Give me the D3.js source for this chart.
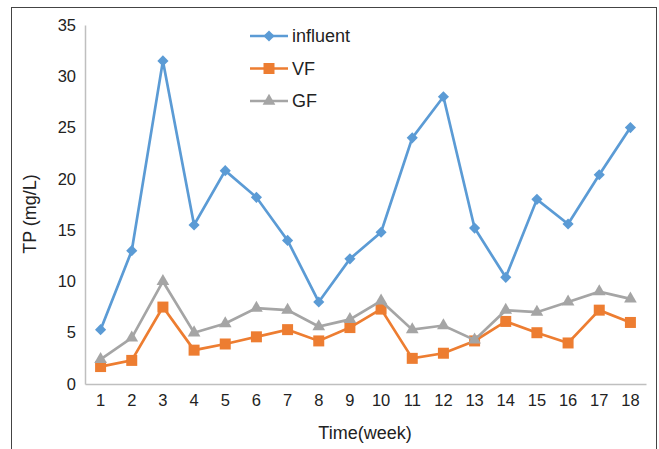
<!DOCTYPE html>
<html>
<head>
<meta charset="utf-8">
<script src="https://cdn.jsdelivr.net/npm/d3@7"></script>
<style>
  body { margin: 0; background: #fff; }
  text { font-family: "Liberation Sans", Arial, sans-serif; fill: #222; }
</style>
</head>
<body>
<script>
var weeks = [1, 2, 3, 4, 5, 6, 7, 8, 9, 10, 11, 12, 13, 14, 15, 16, 17, 18]
var influent = [5.3, 13, 31.5, 15.5, 20.8, 18.2, 14, 8, 12.2, 14.8, 24, 28, 15.2, 10.4, 18, 15.6, 20.4, 25]
var vf = [1.7, 2.3, 7.5, 3.3, 3.9, 4.6, 5.3, 4.2, 5.5, 7.3, 2.5, 3.0, 4.2, 6.1, 5.0, 4.0, 7.2, 6.0]
var gf = [2.4, 4.5, 10, 5.0, 5.9, 7.4, 7.2, 5.6, 6.3, 8.1, 5.3, 5.7, 4.3, 7.2, 7.0, 8.0, 9.0, 8.3]
var yTicks = [0, 5, 10, 15, 20, 25, 30, 35]

var series = [
    { name: 'influent', values: influent, color: '#5b9bd5', symbol: d3.symbolSquare, size: 62, rot: 45 },
    { name: 'VF', values: vf, color: '#ed7d31', symbol: d3.symbolSquare, size: 121, rot: 0 },
    { name: 'GF', values: gf, color: '#a5a5a5', symbol: d3.symbolTriangle, size: 70, rot: 0 }
]

var width = 659, height = 449
var svg = d3.select('body').append('svg')
    .attr('width', width)
    .attr('height', height)

// outer frame
svg.append('rect')
    .attr('x', 11.5).attr('y', 7.5)
    .attr('width', 645).attr('height', 470)
    .attr('fill', 'none').attr('stroke', '#444').attr('stroke-width', 1)

var x = d3.scaleBand().domain(weeks).range([85, 646])
var y = d3.scaleLinear().domain([0, 35]).range([384, 25])

// axes
var yAxis = svg.append('g')
    .attr('transform', 'translate(85,0)')
    .call(d3.axisLeft(y).tickValues(yTicks).tickSize(0).tickPadding(9))
yAxis.select('.domain').attr('stroke', '#bfbfbf').attr('stroke-width', 1.5)
yAxis.selectAll('text').attr('font-size', 16.5).style('font-family', '"Liberation Sans", Arial, sans-serif').attr('fill', '#222')

var xAxis = svg.append('g')
    .attr('transform', 'translate(0,384)')
    .call(d3.axisBottom(x).tickSize(0).tickPadding(10))
xAxis.select('.domain').attr('stroke', '#bfbfbf').attr('stroke-width', 1.5)
xAxis.selectAll('text').attr('font-size', 16.5).style('font-family', '"Liberation Sans", Arial, sans-serif').attr('fill', '#222')

// axis titles
svg.append('text')
    .attr('x', 365).attr('y', 439)
    .attr('text-anchor', 'middle')
    .attr('font-size', 18)
    .text('Time(week)')

svg.append('text')
    .attr('transform', 'translate(36,214) rotate(-90)')
    .attr('text-anchor', 'middle')
    .attr('font-size', 18)
    .text('TP (mg/L)')

var line = d3.line()
    .x(function (d, i) { return x(weeks[i]) + x.bandwidth() / 2 })
    .y(function (d) { return y(d) })

series.forEach(function (s) {
    var g = svg.append('g')
    g.append('path')
        .datum(s.values)
        .attr('d', line)
        .attr('fill', 'none')
        .attr('stroke', s.color)
        .attr('stroke-width', 2.7)

    g.selectAll('path.pt')
        .data(s.values)
        .enter().append('path')
        .attr('class', 'pt')
        .attr('d', d3.symbol().type(s.symbol).size(s.size))
        .attr('transform', function (d, i) {
            return 'translate(' + (x(weeks[i]) + x.bandwidth() / 2) + ',' + y(d) + ') rotate(' + s.rot + ')'
        })
        .attr('fill', s.color)
})

// legend
var legend = svg.selectAll('g.legend')
    .data(series)
    .enter().append('g')
    .attr('class', 'legend')
    .attr('transform', function (d, i) { return 'translate(250,' + (36 + i * 32.5) + ')' })

legend.append('line')
    .attr('x1', 0).attr('x2', 38)
    .attr('stroke', function (d) { return d.color })
    .attr('stroke-width', 2.7)

legend.append('path')
    .attr('d', function (d) { return d3.symbol().type(d.symbol).size(d.size)() })
    .attr('transform', function (d) { return 'translate(19,0) rotate(' + d.rot + ')' })
    .attr('fill', function (d) { return d.color })

legend.append('text')
    .attr('x', 42).attr('dy', '0.35em')
    .attr('font-size', 18)
    .text(function (d) { return d.name })
</script>
</body>
</html>
